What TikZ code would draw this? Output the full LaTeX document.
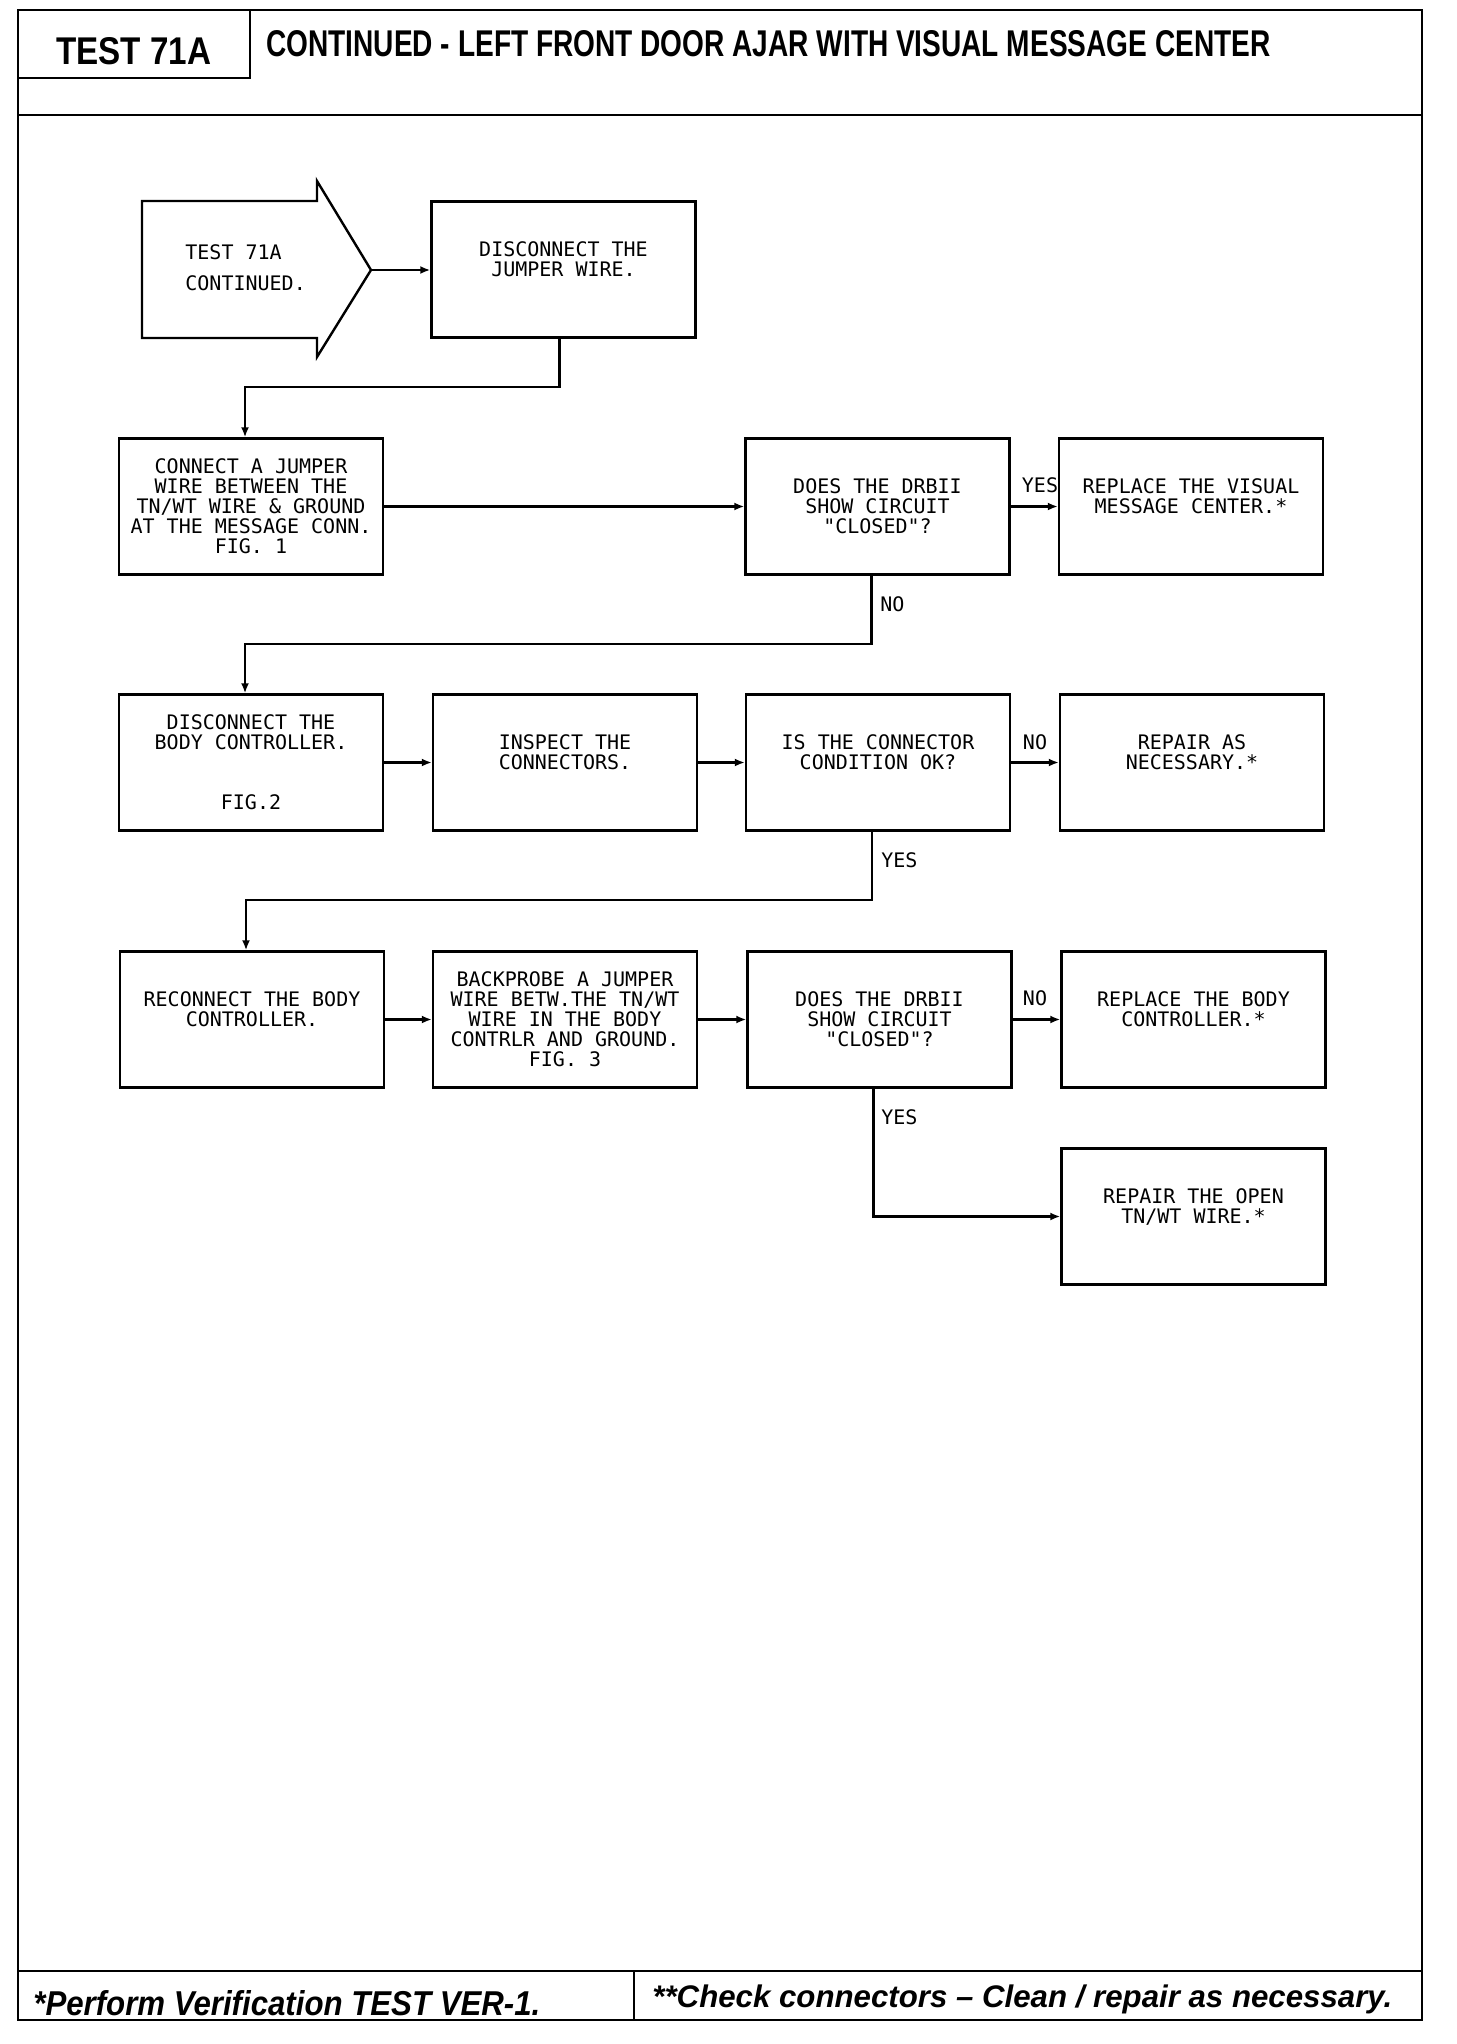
\documentclass[tikz,border=0pt]{standalone}
\usepackage{graphicx}
\usepackage{fontspec}
\setmainfont{Liberation Sans}
\newfontfamily\plotfont{DejaVu Sans Mono}
\usetikzlibrary{arrows.meta}
\begin{document}
\begin{tikzpicture}[x=0.5pt,y=-0.5pt,
  box/.style={draw,line width=1.2pt,minimum width=132pt,minimum height=68pt,inner sep=0pt,align=center,font=\plotfont\fontsize{10}{10}\selectfont},
  lbl/.style={font=\plotfont\fontsize{10}{10}\selectfont,inner sep=0pt},
  conn/.style={line width=1.1pt},
  arr/.style={conn,-{Latex[length=5pt,width=4pt]}},
  frame/.style={line width=1.2pt}]
\useasboundingbox (0,0) rectangle (1456,2044);
% frame
\draw[frame] (18,10) rectangle (1422,2020);
\draw[frame] (18,115) -- (1422,115);
\draw[frame] (250,10) -- (250,78) -- (18,78);
\draw[frame] (18,1971) -- (1422,1971);
\draw[frame] (634,1971) -- (634,2020);
% header / footer texts
\node[anchor=south west,inner sep=0pt] (testno) at (56,65) {\resizebox{77.5pt}{13.5pt}{\bfseries TEST 71A}};
\node[anchor=south west,inner sep=0pt] (title) at (266,57) {\resizebox{502pt}{13pt}{\bfseries CONTINUED - LEFT FRONT DOOR AJAR WITH VISUAL MESSAGE CENTER}};
\node[anchor=base west,inner sep=0pt] (foot1) at (33,2015) {\resizebox{253.5pt}{12.5pt}{\bfseries\itshape *Perform Verification TEST VER-1.}};
\node[anchor=base west,inner sep=0pt] (foot2) at (652,2007) {\resizebox{370pt}{!}{\bfseries\itshape **Check connectors -- Clean / repair as necessary.}};
% start arrow
\draw[frame] (142,201) -- (317,201) -- (317,181) -- (371,270) -- (317,357) -- (317,338) -- (142,338) -- cycle;
\coordinate (tip) at (371,270);
\node[lbl,align=left,anchor=west,font=\plotfont\fontsize{10}{15.5}\selectfont] (start) at (185,268) {TEST 71A\\CONTINUED.};
% boxes
\node[box] (A) at (563.5,269.5) {DISCONNECT THE\\JUMPER WIRE.\\\mbox{}};
\node[box] (B) at (251,506.5) {CONNECT A JUMPER\\WIRE BETWEEN THE\\TN/WT WIRE \& GROUND\\AT THE MESSAGE CONN.\\FIG. 1};
\node[box] (C) at (877.5,506.5) {DOES THE DRBII\\SHOW CIRCUIT\\"CLOSED"?};
\node[box] (D) at (1191,506.5) {REPLACE THE VISUAL\\MESSAGE CENTER.*\\\mbox{}};
\node[box] (E) at (251,762.5) {DISCONNECT THE\\BODY CONTROLLER.\\\mbox{}\\\mbox{}\\FIG.2};
\node[box] (F) at (565,762.5) {INSPECT THE\\CONNECTORS.\\\mbox{}};
\node[box] (G) at (878,762.5) {IS THE CONNECTOR\\CONDITION OK?\\\mbox{}};
\node[box] (H) at (1192,762.5) {REPAIR AS\\NECESSARY.*\\\mbox{}};
\node[box] (I) at (252,1019.5) {RECONNECT THE BODY\\CONTROLLER.\\\mbox{}};
\node[box] (J) at (565,1019.5) {BACKPROBE A JUMPER\\WIRE BETW.THE TN/WT\\WIRE IN THE BODY\\CONTRLR AND GROUND.\\FIG. 3};
\node[box] (K) at (879.5,1019.5) {DOES THE DRBII\\SHOW CIRCUIT\\"CLOSED"?};
\node[box] (L) at (1193.5,1019.5) {REPLACE THE BODY\\CONTROLLER.*\\\mbox{}};
\node[box] (M) at (1193.5,1216.5) {REPAIR THE OPEN\\TN/WT WIRE.*\\\mbox{}};
% connectors
\draw[arr] (tip) -- (tip -| A.west);
\draw[arr] ([xshift=-2pt]A.south) -- ++(0,48) -| ([xshift=-3pt]B.north);
\draw[arr] (B.east) -- (C.west);
\draw[arr] (C.east) -- (D.west);
\node[lbl] (yes1) at (1040,485) {YES};
\draw[arr] ([xshift=-3pt]C.south) -- ++(0,68) -| ([xshift=-3pt]E.north);
\node[lbl,anchor=west] (no1) at (880,604) {NO};
\draw[arr] (E.east) -- (F.west);
\draw[arr] (F.east) -- (G.west);
\draw[arr] (G.east) -- (H.west);
\node[lbl] (no2) at (1035,742) {NO};
\draw[arr] ([xshift=-3pt]G.south) -- ++(0,68) -| ([xshift=-3pt]I.north);
\node[lbl,anchor=west] (yes2) at (881,860) {YES};
\draw[arr] (I.east) -- (J.west);
\draw[arr] (J.east) -- (K.west);
\draw[arr] (K.east) -- (L.west);
\node[lbl] (no3) at (1035,998) {NO};
\draw[arr] ([xshift=-3pt]K.south) |- (M.west);
\node[lbl,anchor=west] (yes3) at (881,1117) {YES};
\end{tikzpicture}
\end{document}
